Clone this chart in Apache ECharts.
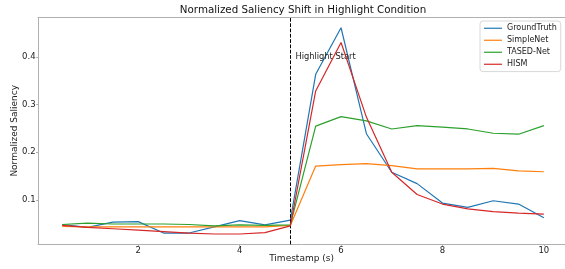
<!DOCTYPE html>
<html>
<head>
<meta charset="utf-8">
<script src="https://cdn.jsdelivr.net/npm/echarts@6/dist/echarts.min.js"></script>
<style>
html,body{margin:0;padding:0;background:#fff;}
#chart{width:565px;height:269px;}
</style>
</head>
<body>
<div id="chart"></div>
<script>
const timestamps = [0.5,1.0,1.5,2.0,2.5,3.0,3.5,4.0,4.5,5.0,5.5,6.0,6.5,7.0,7.5,8.0,8.5,9.0,9.5,10.0];
const groundTruth = [0.048,0.042,0.053,0.054,0.030,0.030,0.043,0.056,0.047,0.057,0.364,0.462,0.239,0.158,0.134,0.093,0.084,0.098,0.091,0.062];
const simpleNet   = [0.044,0.043,0.043,0.043,0.043,0.043,0.043,0.043,0.043,0.046,0.171,0.174,0.176,0.172,0.165,0.165,0.165,0.166,0.161,0.159];
const tasedNet    = [0.048,0.051,0.049,0.049,0.049,0.048,0.045,0.047,0.046,0.047,0.255,0.275,0.266,0.249,0.256,0.253,0.249,0.240,0.238,0.256];
const hism        = [0.046,0.042,0.039,0.036,0.033,0.030,0.028,0.028,0.031,0.045,0.329,0.431,0.274,0.158,0.111,0.091,0.081,0.075,0.072,0.070];
const seriesNames = ['GroundTruth','SimpleNet','TASED-Net','HISM'];
const xTicks = [2,4,6,8,10];
const yTicks = [0.1,0.2,0.3,0.4];
const highlightX = 5;
const annotation = {x: 5.1, y: 0.4, text: 'Highlight Start'};

const colors = ['#1f77b4','#ff7f0e','#2ca02c','#d62728'];
const allData = [groundTruth, simpleNet, tasedNet, hism];
const font = 'DejaVu Sans';
const spine = '#b0b0b0';
const xMin = 0.025, xMax = 10.417;

const pairs = arr => timestamps.map((t,i)=>[t,arr[i]]);

const series = seriesNames.map((name,k)=>({
  name: name,
  type: 'line',
  data: pairs(allData[k]),
  symbol: 'none',
  lineStyle: {width: 1.2, color: colors[k]},
  itemStyle: {color: colors[k]},
  z: 2 + k
}));
series[0].markLine = {
  silent: true,
  symbol: ['none','none'],
  label: {show: false},
  lineStyle: {color: '#000', type: [3.7,1.6], width: 1},
  data: [{xAxis: highlightX}]
};
series[0].markPoint = {
  silent: true,
  symbol: 'circle',
  symbolSize: 0,
  itemStyle: {color: 'transparent'},
  label: {show: true, position: 'right', distance: 0, formatter: annotation.text,
          color: '#222', fontFamily: font, fontSize: 8.3},
  data: [{coord: [annotation.x, annotation.y]}]
};

const chart = echarts.init(document.getElementById('chart'), null, {renderer: 'canvas'});
chart.setOption({
  animation: false,
  backgroundColor: '#fff',
  title: {
    text: 'Normalized Saliency Shift in Highlight Condition',
    left: 303, top: 5, textAlign: 'center', padding: 0,
    textStyle: {fontFamily: font, fontSize: 10.3, fontWeight: 'normal', color: '#111'}
  },
  legend: {
    orient: 'vertical',
    left: 480, top: 21,
    padding: [3.3, 4, 3.3, 4],
    icon: 'rect',
    itemWidth: 18, itemHeight: 1.4, itemGap: 4,
    backgroundColor: 'rgba(255,255,255,0.8)',
    borderColor: '#d8d8d8', borderWidth: 1, borderRadius: 3,
    textStyle: {fontFamily: font, fontSize: 8, color: '#222', lineHeight: 8},
    data: seriesNames.map((n,k)=>({name: n, icon: 'rect', itemStyle: {color: colors[k], opacity: 0.85}}))
  },
  grid: {
    left: 38.1, top: 17.3, right: 0, height: 227,
    outerBoundsMode: 'none', containLabel: false,
    show: false
  },
  xAxis: [{
    type: 'value', min: xMin, max: xMax,
    name: 'Timestamp (s)', nameLocation: 'middle', nameGap: 10, nameMoveOverlap: false,
    nameTextStyle: {fontFamily: font, fontSize: 9, color: '#222'},
    axisLine: {show: true, lineStyle: {color: spine, width: 1}},
    axisTick: {show: true, length: 2, lineStyle: {color: spine}, customValues: xTicks},
    axisLabel: {fontFamily: font, fontSize: 8.5, color: '#222', margin: 2, customValues: xTicks},
    splitLine: {show: false}
  }, {
    type: 'value', min: xMin, max: xMax, position: 'top',
    axisLine: {show: true, lineStyle: {color: spine, width: 1}},
    axisTick: {show: false}, axisLabel: {show: false}, splitLine: {show: false}
  }],
  yAxis: {
    type: 'value', min: 0.0063, max: 0.484,
    name: 'Normalized Saliency', nameLocation: 'middle', nameGap: 18.5, nameMoveOverlap: false,
    nameTextStyle: {fontFamily: font, fontSize: 9, color: '#222'},
    axisLine: {show: true, lineStyle: {color: spine, width: 1}},
    axisTick: {show: true, length: 2, lineStyle: {color: spine}, customValues: yTicks},
    axisLabel: {fontFamily: font, fontSize: 8.5, color: '#222', margin: 2.5, customValues: yTicks,
                formatter: v => v.toFixed(1)},
    splitLine: {show: false}
  },
  series: series
});
</script>
</body>
</html>
